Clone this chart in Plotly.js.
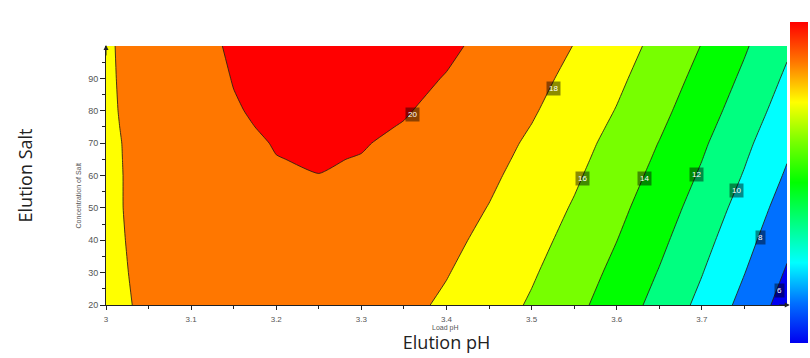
<!DOCTYPE html>
<html><head><meta charset="utf-8">
<script src="https://cdn.plot.ly/plotly-3.0.1.min.js"></script>
<style>html,body{margin:0;padding:0;background:#fff}#chart{width:810px;height:358px}</style>
</head><body><div id="chart"></div>
<script>
// Grid of the response surface
const elutionPH = [3.00,3.05,3.10,3.15,3.20,3.25,3.30,3.35,3.40,3.45,3.50,3.55,3.60,3.65,3.70,3.75,3.80];
const elutionSalt = [20,30,40,50,60,65,70,75,80,90,100];
const salt20  = [17.55,18.28,18.80,19.12,19.25,19.17,18.90,18.42,17.74,16.87,15.79,14.52,13.04,11.36,9.49,7.41,5.14];
const salt30  = [17.60,18.36,18.91,19.27,19.43,19.39,19.15,18.71,18.08,17.24,16.20,14.97,13.53,11.90,10.07,8.04,5.81];
const salt40  = [17.64,18.43,19.02,19.41,19.61,19.60,19.40,19.00,18.40,17.60,16.61,15.41,14.02,12.43,10.64,8.65,6.47];
const salt50  = [17.67,18.49,19.11,19.54,19.77,19.80,19.63,19.27,18.71,17.95,16.99,15.84,14.49,12.94,11.20,9.25,7.11];
const salt60  = [17.66,18.51,19.18,19.64,19.91,19.99,19.85,19.53,19.01,18.29,17.38,16.27,14.96,13.46,11.76,9.87,7.77];
const salt65  = [17.66,18.54,19.22,19.70,19.98,20.07,19.96,19.66,19.16,18.46,17.57,16.48,15.19,13.71,12.03,10.15,8.08];
const salt70  = [17.67,18.56,19.25,19.75,20.05,20.16,20.07,19.78,19.30,18.62,17.75,16.68,15.41,13.95,12.29,10.44,8.39];
const salt75  = [17.71,18.61,19.32,19.84,20.16,20.28,20.21,19.94,19.47,18.82,17.96,16.91,15.67,14.23,12.59,10.76,8.73];
const salt80  = [17.74,18.66,19.39,19.92,20.25,20.40,20.34,20.09,19.65,19.01,18.17,17.14,15.92,14.50,12.88,11.07,9.07];
const salt90  = [17.77,18.72,19.48,20.04,20.41,20.58,20.57,20.35,19.94,19.34,18.54,17.55,16.37,14.99,13.42,11.65,9.69];
const salt100 = [17.79,18.77,19.56,20.16,20.56,20.77,20.78,20.60,20.23,19.67,18.91,17.96,16.81,15.47,13.94,12.21,10.30];

const levelStart = 6, levelEnd = 20, levelStep = 2;
const bandColors = ['#0000F0','#0070FF','#00FFFF','#00FF80','#00FF00','#77FF00','#FFFF00','#FF7700','#FF0000'];

const xTickVals = [3,3.1,3.2,3.3,3.4,3.5,3.6,3.7];
const xTickText = ['3','3.1','3.2','3.3','3.4','3.5','3.6','3.7'];
const yTickVals = [20,30,40,50,60,70,80,90];
const yTickText = ['20','30','40','50','60','70','80','90'];

const labelText = ['20','18','16','14','12','10','8','6'];
const labelPH   = [3.3596,3.5256,3.5597,3.6325,3.6941,3.7411,3.7685,3.7912];
const labelSalt = [78.9,86.9,59.1,59.1,60.2,55.5,40.9,24.6];

const colorscale = bandColors.map((c,i)=>[i/(bandColors.length-1), c]);
const zGrid = [salt20,salt30,salt40,salt50,salt60,salt65,salt70,salt75,salt80,salt90,salt100];

const contourTrace = {
  type:'contour', x: elutionPH, y: elutionSalt, z: zGrid,
  autocontour:false,
  contours:{start:levelStart, end:levelEnd, size:levelStep, coloring:'fill', showlines:true},
  colorscale: colorscale, showscale:false,
  line:{color:'rgba(40,30,20,0.85)', width:1, smoothing:0.5},
  hoverinfo:'skip'
};

const scaleTrace = {
  type:'scatter', mode:'markers', x:[null,null], y:[null,null],
  marker:{color:[levelStart, levelEnd], cmin:levelStart-levelStep/2, cmax:levelEnd+levelStep/2,
    colorscale: colorscale, showscale:true,
    colorbar:{x:1.0044, xanchor:'left', xpad:0, y:0.473, yanchor:'middle', ypad:0,
      len:321, lenmode:'pixels', thickness:18, thicknessmode:'pixels',
      outlinewidth:0, showticklabels:false, ticks:''}},
  hoverinfo:'skip', showlegend:false
};

const annotations = labelText.map((t,i)=>({
  x: labelPH[i], y: labelSalt[i], xref:'x', yref:'y', text:t, showarrow:false,
  font:{family:'Liberation Sans, Arial', size:8, color:'#ffffff'},
  bgcolor:'rgba(0,0,0,0.45)', borderpad:2
}));
annotations.push(
  {xref:'paper', yref:'paper', x:1.004, y:0, ax:-12, ay:0, text:'', showarrow:true,
   arrowhead:2, arrowsize:1, arrowwidth:1, arrowcolor:'#222'},
  {xref:'paper', yref:'paper', x:0, y:1.004, ax:0, ay:12, text:'', showarrow:true,
   arrowhead:2, arrowsize:1, arrowwidth:1, arrowcolor:'#222'},
  {xref:'paper', yref:'paper', x:-0.0485, y:0.421, text:'Concentration of Salt', textangle:-90,
   showarrow:false, font:{family:'Liberation Sans, Arial', size:7, color:'#555'}},
  {xref:'paper', yref:'paper', x:0.498, y:-0.066, yanchor:'top', text:'Load pH',
   showarrow:false, font:{family:'Liberation Sans, Arial', size:7, color:'#555'}}
);

const layout = {
  width:810, height:358,
  margin:{l:106, r:23, t:46, b:53, autoexpand:false},
  paper_bgcolor:'#fff', plot_bgcolor:'#fff',
  showlegend:false,
  xaxis:{range:[3,3.8], tickmode:'array', tickvals:xTickVals, ticktext:xTickText,
    showline:true, linecolor:'#222', linewidth:1, ticks:'outside', ticklen:4, tickcolor:'#222',
    ticklabelstandoff:2,
    tickfont:{family:'Liberation Sans, Arial', size:8, color:'#555'},
    minor:{tick0:3.05, dtick:0.1, ticks:'outside', ticklen:3, tickcolor:'#222'},
    showgrid:false, zeroline:false,
    title:{text:'Elution pH', font:{family:'Open Sans', size:18, color:'#222'}, standoff:13}},
  yaxis:{range:[20,100], tickmode:'array', tickvals:yTickVals, ticktext:yTickText,
    showline:true, linecolor:'#222', linewidth:1, ticks:'outside', ticklen:5, tickcolor:'#222',
    tickfont:{family:'Liberation Sans, Arial', size:9, color:'#555'},
    minor:{tick0:25, dtick:10, ticks:'outside', ticklen:3, tickcolor:'#222'},
    showgrid:false, zeroline:false,
    title:{text:'Elution Salt', font:{family:'Open Sans', size:18, color:'#222'}, standoff:50}},
  annotations: annotations
};

Plotly.newPlot('chart', [contourTrace, scaleTrace], layout, {displayModeBar:false, staticPlot:true});
</script>
</body></html>
